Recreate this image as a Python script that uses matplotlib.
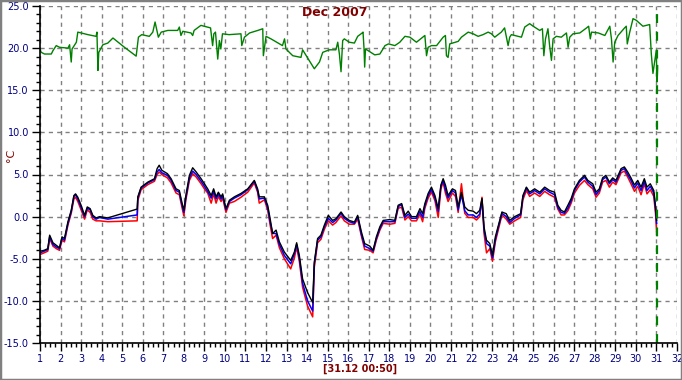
import matplotlib
matplotlib.use("Agg")
import matplotlib.pyplot as plt
from matplotlib.patches import Rectangle
from matplotlib.ticker import MultipleLocator, FixedLocator

# outdoor sensors, day of month (fractional)
t_out = [1.0, 1.2, 1.38, 1.47, 1.63, 1.79, 1.95, 2.07, 2.19, 2.36, 2.52, 2.65, 2.73, 2.84,
         3.0, 3.17, 3.3, 3.44, 3.57, 3.73, 3.9, 4.3, 5.73, 5.76, 5.92, 6.25, 6.57, 6.7,
         6.8, 6.93, 7.2, 7.38, 7.62, 7.78, 7.9, 8.0, 8.1, 8.27, 8.43, 8.6, 8.84, 9.0,
         9.16, 9.33, 9.45, 9.57, 9.68, 9.81, 9.89, 10.05, 10.22, 10.46, 10.78, 11.11, 11.43, 11.59,
         11.67, 11.92, 12.08, 12.2, 12.32, 12.49, 12.65, 12.89, 13.2, 13.38, 13.49, 13.62, 13.78, 14.02,
         14.27, 14.35, 14.51, 14.67, 14.84, 15.03, 15.24, 15.4, 15.65, 15.81, 16.05, 16.3, 16.46, 16.64,
         16.8, 17.05, 17.21, 17.37, 17.54, 17.7, 18.03, 18.27, 18.43, 18.6, 18.76, 18.92, 19.08, 19.32,
         19.49, 19.62, 19.73, 19.89, 20.05, 20.22, 20.38, 20.51, 20.62, 20.73, 20.86, 21.07, 21.22, 21.35,
         21.51, 21.67, 21.84, 22.08, 22.24, 22.4, 22.51, 22.61, 22.73, 22.89, 23.02, 23.16, 23.29, 23.48,
         23.69, 23.86, 24.1, 24.39, 24.5, 24.67, 24.83, 25.07, 25.32, 25.56, 25.8, 26.04, 26.2, 26.36,
         26.52, 26.69, 26.85, 27.01, 27.25, 27.5, 27.66, 27.9, 28.06, 28.22, 28.38, 28.54, 28.71, 28.87,
         29.03, 29.28, 29.44, 29.6, 29.76, 29.93, 30.09, 30.25, 30.41, 30.54, 30.7, 30.87, 30.95, 31.01]

temp_black = [-4.1, -4.0, -3.8, -2.2, -3.1, -3.4, -3.7, -2.4, -2.6, -0.6, 0.75, 2.5, 2.7, 2.3,
              1.35, 0.15, 1.15, 0.95, 0.15, -0.15, 0.0, -0.15, 0.9, 2.35, 3.5, 4.1, 4.5, 5.7,
              6.1, 5.5, 5.1, 4.5, 3.3, 3.1, 1.75, 0.75, 2.5, 4.9, 5.8, 5.3, 4.5, 3.9,
              3.3, 2.5, 3.3, 2.35, 2.9, 2.35, 2.7, 0.95, 1.95, 2.35, 2.75, 3.3, 4.3, 3.3,
              2.35, 2.35, 1.35, -0.25, -2.0, -1.6, -3.0, -4.2, -5.2, -4.2, -3.1, -4.6, -7.4, -9.0,
              -10.2, -5.4, -2.6, -2.2, -1.0, 0.15, -0.45, -0.25, 0.55, 0.0, -0.45, -0.65, 0.15, -1.8,
              -3.2, -3.5, -4.0, -2.4, -1.2, -0.45, -0.35, -0.45, 1.35, 1.55, 0.15, 0.65, 0.0, 0.0,
              0.95, 0.35, 1.55, 2.75, 3.5, 2.5, 0.95, 3.75, 4.5, 3.75, 2.5, 3.3, 3.1, 1.15,
              2.9, 1.15, 0.75, 0.65, 0.35, 0.75, 2.15, -1.25, -2.8, -3.2, -4.6, -2.4, -1.2, 0.55,
              0.35, -0.45, 0.0, 0.35, 2.5, 3.5, 2.9, 3.3, 2.9, 3.5, 3.1, 2.9, 1.35, 0.75,
              0.55, 1.35, 2.15, 3.3, 4.3, 4.9, 4.3, 3.9, 2.9, 3.3, 4.6, 4.9, 4.1, 4.6,
              4.3, 5.7, 5.9, 5.3, 4.6, 3.75, 4.3, 3.5, 4.5, 3.5, 3.9, 3.1, 1.35, -0.45]

temp_blue = [-4.3, -4.1, -3.9, -2.4, -3.3, -3.6, -3.8, -2.6, -2.8, -0.8, 0.6, 2.4, 2.6, 2.1,
             1.1, 0.0, 1.0, 0.8, 0.0, -0.3, -0.1, -0.3, 0.2, 2.2, 3.4, 4.0, 4.4, 5.3,
             5.6, 5.2, 4.9, 4.3, 3.1, 2.9, 1.5, 0.5, 2.3, 4.6, 5.4, 5.0, 4.2, 3.6,
             3.0, 2.2, 3.0, 2.1, 2.7, 2.1, 2.5, 0.8, 1.8, 2.2, 2.6, 3.2, 4.2, 3.1,
             2.1, 2.2, 1.1, -0.6, -2.0, -2.0, -3.3, -4.6, -5.6, -4.4, -3.3, -4.9, -7.9, -10.0,
             -11.2, -5.6, -2.8, -2.4, -1.2, -0.2, -0.7, -0.4, 0.4, -0.2, -0.6, -0.8, 0.0, -2.1,
             -3.5, -3.8, -4.1, -2.6, -1.4, -0.6, -0.6, -0.6, 1.2, 1.4, -0.1, 0.3, -0.2, -0.2,
             0.6, -0.1, 1.3, 2.5, 3.2, 2.2, 0.6, 3.6, 4.3, 3.2, 2.2, 3.1, 2.8, 0.8,
             2.6, 0.7, 0.2, 0.2, -0.1, 0.3, 2.0, -1.6, -3.2, -3.5, -4.9, -2.7, -1.4, 0.4,
             0.0, -0.7, -0.2, 0.2, 2.3, 3.4, 2.7, 3.1, 2.7, 3.3, 2.9, 2.6, 1.1, 0.5,
             0.4, 1.0, 1.9, 3.1, 4.1, 4.7, 4.1, 3.6, 2.6, 3.1, 4.4, 4.7, 3.9, 4.4,
             4.1, 5.5, 5.7, 5.0, 4.3, 3.4, 4.0, 3.1, 4.2, 3.1, 3.6, 2.8, 1.0, -0.8]

temp_red = [-4.5, -4.3, -4.1, -2.6, -3.5, -3.8, -4.0, -2.8, -3.0, -1.0, 0.4, 2.1, 2.3, 1.8,
            0.8, -0.3, 0.8, 0.5, -0.3, -0.5, -0.5, -0.6, -0.5, 1.9, 3.2, 3.8, 4.2, 5.0,
            5.3, 5.0, 4.6, 4.0, 2.8, 2.6, 1.2, 0.1, 2.0, 4.3, 5.1, 4.7, 3.9, 3.3,
            2.8, 1.6, 2.7, 1.6, 2.4, 1.8, 2.2, 0.5, 1.6, 1.8, 2.3, 2.9, 4.0, 2.9,
            1.6, 2.0, 0.8, -1.0, -2.6, -2.2, -3.7, -5.0, -6.2, -4.9, -3.6, -5.3, -8.4, -10.6,
            -11.9, -6.0, -3.1, -2.7, -1.5, -0.5, -1.0, -0.7, 0.1, -0.5, -0.9, -0.9, -0.3, -2.3,
            -3.9, -4.0, -4.3, -2.8, -1.6, -0.8, -0.9, -0.8, 1.0, 1.1, -0.4, 0.0, -0.5, -0.5,
            0.3, -0.6, 1.0, 2.2, 2.9, 1.9, -0.1, 3.3, 4.1, 2.8, 1.8, 2.8, 2.4, 0.5,
            3.9, 0.4, -0.1, -0.1, -0.4, 0.0, 2.3, -2.0, -4.3, -3.8, -5.3, -3.0, -1.7, 0.2,
            -0.3, -0.9, -0.5, -0.1, 2.0, 3.1, 2.4, 2.8, 2.4, 3.0, 2.6, 2.3, 0.9, 0.2,
            0.2, 0.7, 1.6, 2.8, 3.7, 4.3, 3.8, 3.3, 2.3, 2.8, 4.1, 4.3, 3.5, 4.1,
            3.8, 5.2, 5.4, 4.7, 3.9, 3.0, 3.6, 2.6, 3.9, 2.7, 3.2, 2.4, 0.5, -1.8]

# indoor sensor
t_in = [1.0, 1.06, 1.22, 1.55, 1.63, 1.79, 1.95, 2.36, 2.44, 2.52, 2.56, 2.77, 2.84, 3.33,
        3.73, 3.77, 3.82, 3.86, 4.06, 4.3, 4.55, 5.11, 5.68, 5.79, 5.95, 6.32, 6.49, 6.6,
        6.76, 6.9, 7.22, 7.7, 7.78, 7.86, 7.95, 8.35, 8.43, 8.5, 8.83, 9.3, 9.4, 9.46,
        9.54, 9.65, 9.73, 9.8, 9.88, 10.2, 10.78, 10.82, 10.95, 11.2, 11.6, 11.84, 11.87, 12.0,
        12.24, 12.8, 12.9, 12.97, 13.3, 13.7, 13.78, 14.35, 14.6, 14.76, 15.08, 15.4, 15.49, 15.57,
        15.65, 15.73, 15.81, 16.05, 16.3, 16.46, 16.68, 16.72, 16.77, 16.8, 16.84, 16.97, 17.29, 17.54,
        17.79, 17.96, 18.27, 18.51, 18.76, 19.0, 19.32, 19.73, 19.81, 19.89, 20.05, 20.3, 20.62, 20.73,
        20.78, 20.86, 20.94, 21.35, 21.51, 21.84, 22.08, 22.32, 22.56, 22.81, 22.97, 23.13, 23.45, 23.61,
        23.7, 23.78, 23.86, 23.94, 24.1, 24.43, 24.59, 24.83, 25.0, 25.32, 25.45, 25.52, 25.6, 25.72,
        25.8, 25.89, 25.97, 26.13, 26.37, 26.62, 26.7, 26.78, 26.94, 27.27, 27.6, 27.7, 27.78, 27.84,
        28.17, 28.49, 28.73, 28.81, 28.89, 28.97, 29.13, 29.45, 29.53, 29.58, 29.7, 29.86, 30.02, 30.34,
        30.67, 30.75, 30.83, 30.91, 30.99, 31.03, 31.06]

temp_in = [19.8, 19.5, 19.3, 19.3, 19.7, 20.3, 20.1, 20.0, 20.4, 18.35, 19.9, 20.7, 21.9, 21.6,
           21.4, 21.9, 17.35, 19.5, 20.4, 20.6, 21.2, 20.1, 19.05, 21.3, 21.6, 21.4, 21.9, 23.1,
           21.3, 21.9, 22.1, 22.1, 22.5, 21.5, 22.0, 21.8, 21.5, 22.1, 22.7, 22.4, 20.3, 21.7,
           21.9, 18.7, 20.9, 19.9, 21.7, 21.6, 21.7, 20.3, 21.3, 21.8, 22.1, 22.3, 19.1, 21.4,
           21.1, 20.3, 21.1, 19.9, 19.1, 18.9, 19.8, 17.55, 18.35, 19.5, 19.8, 19.8, 20.7, 19.3,
           17.2, 20.9, 21.1, 20.7, 20.6, 21.4, 21.8, 21.9, 19.9, 17.75, 19.9, 19.7, 19.2, 19.3,
           20.3, 20.5, 20.3, 20.7, 21.4, 21.3, 20.7, 21.5, 19.1, 20.1, 20.3, 20.3, 21.3, 21.5,
           19.1, 18.9, 20.5, 20.8, 21.3, 21.9, 21.7, 21.4, 21.6, 21.9, 21.7, 21.3, 21.9, 22.4,
           21.3, 20.3, 21.3, 21.6, 21.5, 21.3, 22.5, 22.9, 22.6, 22.1, 22.3, 19.1, 21.1, 22.3,
           20.3, 18.55, 21.1, 21.4, 21.3, 21.8, 20.1, 21.3, 21.7, 21.8, 22.4, 22.6, 21.1, 21.9,
           21.8, 21.5, 22.6, 21.1, 18.35, 20.7, 21.5, 22.4, 22.6, 20.5, 21.9, 23.5, 23.3, 22.6,
           22.8, 19.3, 17.0, 18.35, 19.7, 16.0, 17.9]

now_day = 31 + 50 / 1440  # [31.12 00:50]
day_labels = [str(d) for d in range(1, 33)]

navy = "#000080"
dark_red = "#800000"

fig = plt.figure(figsize=(6.82, 3.8), dpi=100)
ax = fig.add_axes([40 / 682, 1 - 343 / 380, 637 / 682, 337 / 380])

ax.plot(t_in, temp_in, color="#008000", lw=1.0)
ax.plot(t_out, temp_red, color="#ff0000", lw=1.1)
ax.plot(t_out, temp_blue, color="#0000ff", lw=1.1)
ax.plot(t_out, temp_black, color="#000000", lw=1.0)
ax.axvline(now_day, color="#008000", lw=1.6, dashes=(4, 4))

ax.set_xlim(1, 32)
ax.set_ylim(-15, 25)
ax.xaxis.set_major_locator(FixedLocator(range(1, 33)))
ax.set_xticklabels(day_labels)
ax.xaxis.set_minor_locator(MultipleLocator(0.25))
ax.yaxis.set_major_locator(MultipleLocator(5))
ax.yaxis.set_minor_locator(MultipleLocator(1))
ax.yaxis.set_major_formatter(matplotlib.ticker.FormatStrFormatter("%.1f"))

ax.tick_params(which="major", length=6, width=1, colors="black", labelcolor=navy, labelsize=7, pad=2)
ax.tick_params(which="minor", length=3, width=1, colors="black")

ax.grid(True, which="major", color="#808080", lw=1, dashes=(3, 3))
for s in ["top", "right"]:
    ax.spines[s].set_visible(False)
for s in ["left", "bottom"]:
    ax.spines[s].set_linewidth(1.2)

fig.text(335 / 682, 1 - 13 / 380, "Dec 2007", color=dark_red, fontsize=9,
         fontweight="bold", ha="center", va="center")
fig.text(11 / 682, 1 - 155 / 380, "°C", color=dark_red, fontsize=8,
         rotation=90, ha="center", va="center")
fig.text(360 / 682, 1 - 369 / 380, "[31.12 00:50]", color=dark_red, fontsize=7,
         fontweight="bold", ha="center", va="center")

fig.patches.append(Rectangle((0, 0), 1, 1, transform=fig.transFigure, fill=False,
                             edgecolor="#808080", lw=2.5))

fig.savefig("out.png", dpi=100)
